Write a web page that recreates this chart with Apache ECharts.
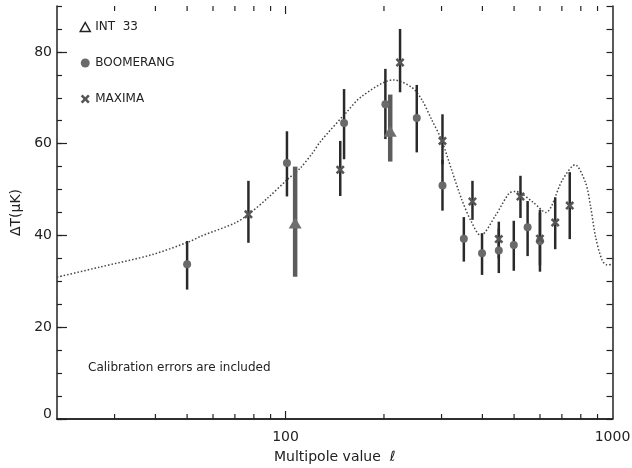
<!DOCTYPE html>
<html><head><meta charset="utf-8">
<script src="https://cdn.jsdelivr.net/npm/echarts@6/dist/echarts.min.js"></script>
<style>html,body{margin:0;padding:0;background:#fff}#c{width:632px;height:468px}</style>
</head><body><div id="c"></div>
<script>
// Theory curve (multipole l, Delta T in microK)
const curveL = [20, 27, 39, 51, 55, 70, 77, 88, 101, 111, 121, 128, 153, 171, 214, 243, 261, 280, 300, 322, 346, 370, 395, 440, 483, 506, 570, 625, 703, 768, 828, 857, 887, 928, 960, 1000];
const curveV = [30.9, 33.1, 35.8, 38.7, 39.8, 42.7, 44.6, 48.1, 52.1, 54.7, 58.0, 60.5, 66.7, 70.3, 73.9, 72.3, 69.6, 65.2, 60.8, 54.3, 47.8, 43.0, 40.0, 44.5, 49.2, 49.6, 47.3, 45.0, 52.1, 55.4, 51.4, 46.3, 39.8, 34.7, 33.6, 33.7];

// BOOMERANG
const boomL  = [50, 101, 151, 202, 252, 302, 351, 399, 449, 499, 550, 600];
const boomV  = [33.7, 55.8, 64.5, 68.6, 65.6, 50.9, 39.3, 36.1, 36.7, 37.9, 41.8, 38.8];
const boomLo = [28.2, 48.5, 56.6, 61.0, 58.1, 45.4, 34.3, 31.4, 31.8, 32.3, 35.5, 32.1];
const boomHi = [38.8, 62.7, 71.9, 76.3, 72.8, 56.5, 44.0, 40.5, 41.5, 43.2, 47.5, 45.0];

// MAXIMA
const maxL  = [77, 147, 224, 302, 373, 449, 523, 600, 668, 740];
const maxV  = [44.6, 54.3, 77.7, 60.6, 47.4, 39.2, 48.5, 39.3, 42.8, 46.5];
const maxLo = [38.4, 48.6, 71.2, 55.5, 43.4, 35.0, 43.8, 33.5, 37.0, 39.2];
const maxHi = [51.9, 60.6, 85.0, 66.4, 51.9, 43.0, 53.0, 45.6, 48.3, 53.8];

// INT 33
const intL  = [107, 209];
const intV  = [42.7, 62.7];
const intLo = [31.0, 56.1];
const intHi = [55.0, 70.7];

// Axis ticks
const xTickLabels = [100, 1000];
const xMajorTicks = [100];
const xMinorTicks = [30, 40, 50, 60, 70, 80, 90, 200, 300, 400, 500, 600, 700, 800, 900];
const yMin = 0, yMax = 90;

const FONT = 'DejaVu Sans';
const INK = '#222';
const X_PATH = 'path://M0,2 L2,0 L5,3 L8,0 L10,2 L7,5 L10,8 L8,10 L5,7 L2,10 L0,8 L3,5 Z';

function errSeries(L, lo, hi, color, width) {
  return {
    type: 'custom', silent: true, z: 2,
    data: L.map((l, i) => [l, lo[i], hi[i]]),
    encode: { x: 0, y: [1, 2] },
    renderItem: function (params, api) {
      const p1 = api.coord([api.value(0), api.value(1)]);
      const p2 = api.coord([api.value(0), api.value(2)]);
      return { type: 'line', shape: { x1: p1[0], y1: p1[1], x2: p2[0], y2: p2[1] },
               style: { stroke: color, lineWidth: width } };
    }
  };
}
function tickSeries(vals, len) {
  return {
    type: 'custom', silent: true, z: 5, clip: false,
    data: vals.map(v => [v, yMin]),
    renderItem: function (params, api) {
      const b = api.coord([api.value(0), yMin]);
      const t = api.coord([api.value(0), yMax]);
      return { type: 'group', children: [
        { type: 'line', shape: { x1: b[0], y1: b[1], x2: b[0], y2: b[1] - len }, style: { stroke: INK, lineWidth: 1.2 } },
        { type: 'line', shape: { x1: t[0], y1: t[1], x2: t[0], y2: t[1] + len }, style: { stroke: INK, lineWidth: 1.2 } }
      ]};
    }
  };
}

const chart = echarts.init(document.getElementById('c'), null, { renderer: 'canvas' });
const axisLine = { show: true, lineStyle: { color: INK, width: 1.5 } };
chart.setOption({
  animation: false,
  backgroundColor: '#fff',
  grid: { left: 57, right: 19.5, top: 6, bottom: 49, containLabel: false, outerBoundsMode: 'none' },
  legend: {
    orient: 'vertical', left: 74.5, top: 16, itemGap: 24, itemWidth: 10, itemHeight: 9,
    selectedMode: false,
    textStyle: { fontFamily: FONT, fontSize: 12, color: INK },
    data: [
      { name: 'INT  33', icon: 'triangle', itemStyle: { color: '#fff', borderColor: INK, borderWidth: 1.5 } },
      { name: 'BOOMERANG' },
      { name: 'MAXIMA' }
    ]
  },
  graphic: [{
    type: 'text', left: 88, top: 362,
    style: { text: 'Calibration errors are included', font: '12px "DejaVu Sans"', fill: INK }
  }],
  xAxis: [{
    type: 'log', logBase: 10, min: 20, max: 1000, position: 'bottom',
    axisLine: axisLine, axisTick: { show: false }, splitLine: { show: false },
    axisLabel: { fontFamily: FONT, fontSize: 14, color: INK, margin: 11,
      formatter: v => (xTickLabels.indexOf(Math.round(v)) >= 0 ? String(Math.round(v)) : '') },
    name: 'Multipole value  \u2113', nameLocation: 'middle', nameGap: 31,
    nameTextStyle: { fontFamily: FONT, fontSize: 14, color: INK }
  }, {
    type: 'log', logBase: 10, min: 20, max: 1000, position: 'top',
    axisLine: axisLine, axisTick: { show: false }, axisLabel: { show: false }, splitLine: { show: false }
  }],
  yAxis: [{
    type: 'value', min: yMin, max: yMax, interval: 20, position: 'left',
    axisLine: axisLine, splitLine: { show: false },
    axisTick: { show: true, inside: true, length: 10, lineStyle: { color: INK, width: 1.2 } },
    axisLabel: { fontFamily: FONT, fontSize: 14, color: INK, margin: 5, showMaxLabel: false,
      formatter: v => (v === 0 ? '{z|0}' : (v % 20 === 0 && v <= 80 ? String(v) : '')),
      rich: { z: { fontFamily: FONT, fontSize: 14, color: INK, padding: [0, 0, 10, 0] } } },
    name: '\u0394T(\u03bcK)', nameLocation: 'middle', nameGap: 33, nameRotate: 90,
    nameTextStyle: { fontFamily: FONT, fontSize: 14, color: INK }
  }, {
    type: 'value', min: yMin, max: yMax, interval: 5, position: 'left',
    axisLine: { show: false }, splitLine: { show: false }, axisLabel: { show: false },
    axisTick: { show: true, inside: true, length: 5, lineStyle: { color: INK, width: 1.2 } }
  }, {
    type: 'value', min: yMin, max: yMax, interval: 5, position: 'right',
    axisLine: axisLine, splitLine: { show: false }, axisLabel: { show: false },
    axisTick: { show: true, inside: true, length: 6, lineStyle: { color: INK, width: 1.2 } }
  }],
  series: [
    tickSeries(xMajorTicks, 8),
    tickSeries(xMinorTicks, 5),
    {
      type: 'line', name: 'theory', data: curveL.map((l, i) => [l, curveV[i]]),
      showSymbol: false, smooth: 0.3, silent: true, z: 1,
      lineStyle: { color: '#444', width: 1.5, type: [1.5, 2] }
    },
    errSeries(intL, intLo, intHi, '#5c5c5c', 4.5),
    errSeries(boomL, boomLo, boomHi, '#2a2a2a', 2.5),
    errSeries(maxL, maxLo, maxHi, '#2a2a2a', 2.5),
    {
      type: 'scatter', name: 'INT  33', data: intL.map((l, i) => [l, intV[i]]),
      symbol: 'triangle', symbolSize: [13, 11], z: 4,
      itemStyle: { color: '#6e6e6e', opacity: 1 }
    },
    {
      type: 'scatter', name: 'BOOMERANG', data: boomL.map((l, i) => [l, boomV[i]]),
      symbol: 'circle', symbolSize: 8, z: 4,
      itemStyle: { color: '#6a6a6a', opacity: 1 }
    },
    {
      type: 'scatter', name: 'MAXIMA', data: maxL.map((l, i) => [l, maxV[i]]),
      symbol: X_PATH, symbolSize: 9, z: 4,
      itemStyle: { color: '#555', opacity: 1 }
    }
  ]
});
</script>
</body></html>
